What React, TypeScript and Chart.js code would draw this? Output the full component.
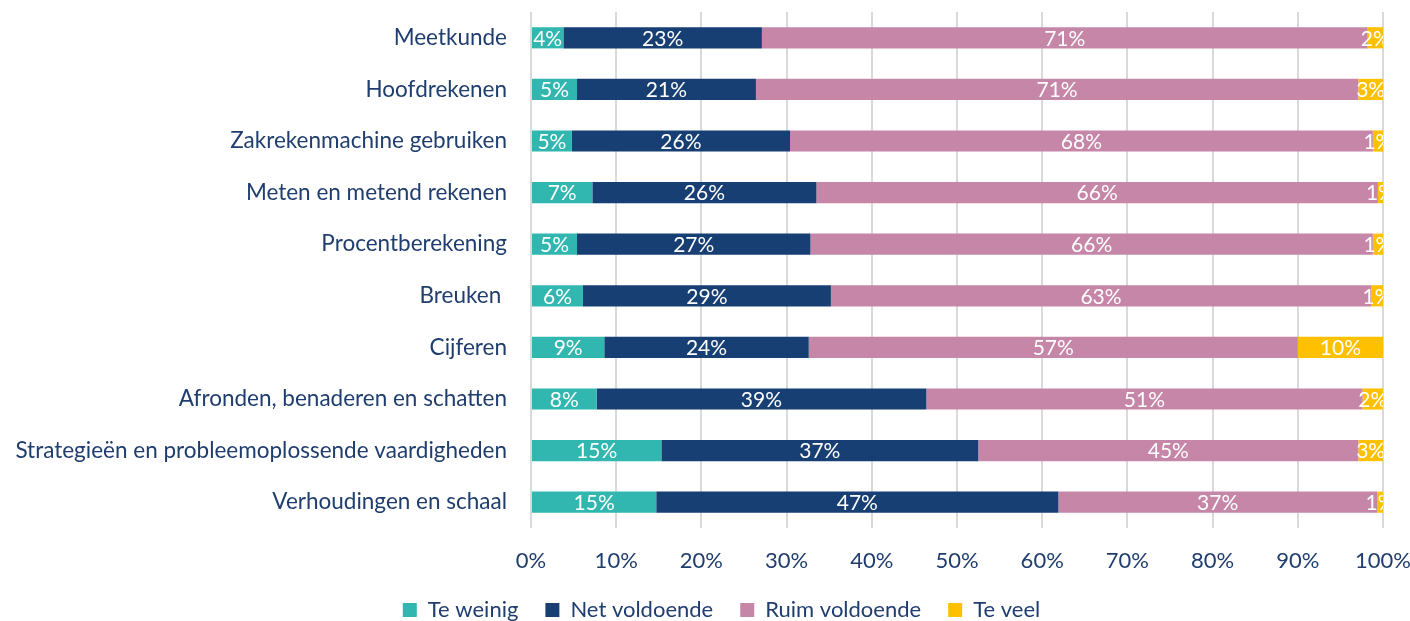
import React, { useEffect, useRef } from 'react';
import { Chart, registerables } from 'chart.js';

Chart.register(...registerables);

const categories = [
  'Meetkunde',
  'Hoofdrekenen',
  'Zakrekenmachine gebruiken',
  'Meten en metend rekenen',
  'Procentberekening',
  'Breuken ',
  'Cijferen',
  'Afronden, benaderen en schatten',
  'Strategieën en probleemoplossende vaardigheden',
  'Verhoudingen en schaal',
];

const teWeinig = [3.8, 5.4, 4.8, 7.2, 5.4, 6.1, 8.6, 7.7, 15.3, 14.7];
const netVoldoende = [23.3, 21.0, 25.6, 26.3, 27.4, 29.1, 24.0, 38.7, 37.2, 47.2];
const ruimVoldoende = [71.1, 70.7, 68.4, 65.9, 66.0, 63.4, 57.4, 51.2, 44.6, 37.4];
const teVeel = [1.8, 2.9, 1.2, 0.6, 1.2, 1.4, 10.0, 2.4, 2.9, 0.7];

const xTicks = [0, 10, 20, 30, 40, 50, 60, 70, 80, 90, 100];

const FONT = 'Lato';
const TEXT = '#1F3D6E';

const barLabels = {
  id: 'barLabels',
  afterDatasetsDraw(chart: any) {
    const { ctx, chartArea } = chart;
    ctx.save();
    ctx.beginPath();
    ctx.rect(chartArea.left, chartArea.top, chartArea.right - chartArea.left, chartArea.bottom - chartArea.top);
    ctx.clip();
    ctx.fillStyle = '#FFFFFF';
    ctx.font = `21px ${FONT}`;
    ctx.textAlign = 'center';
    ctx.textBaseline = 'middle';
    chart.data.datasets.forEach((ds: any, di: number) => {
      const meta = chart.getDatasetMeta(di);
      meta.data.forEach((el: any, i: number) => {
        const { x, base, y } = el.getProps(['x', 'base', 'y'], true);
        const v = ds.data[i];
        ctx.fillText(`${Math.round(v)}%`, (x + base) / 2, y + 1);
      });
    });
    ctx.restore();
  },
};

const shiftLegend = {
  id: 'shiftLegend',
  afterLayout(chart: any) {
    if (chart.legend) {
      chart.legend.left += 30;
      chart.legend.right += 30;
    }
  },
};

export default function App() {
  const ref = useRef<HTMLCanvasElement>(null);
  useEffect(() => {
    if (!ref.current) return;
    const chart = new Chart(ref.current, {
      type: 'bar',
      data: {
        labels: categories,
        datasets: [
          { label: 'Te weinig', data: teWeinig, backgroundColor: '#31B7AF' },
          { label: 'Net voldoende', data: netVoldoende, backgroundColor: '#173F73' },
          { label: 'Ruim voldoende', data: ruimVoldoende, backgroundColor: '#C586A7' },
          { label: 'Te veel', data: teVeel, backgroundColor: '#FFC000' },
        ],
      },
      options: {
        indexAxis: 'y',
        responsive: false,
        animation: false,
        layout: { padding: { top: 12, right: 27, left: 0, bottom: -10 } },
        datasets: { bar: { categoryPercentage: 1, barPercentage: 0.41 } },
        scales: {
          x: {
            stacked: true,
            min: 0,
            max: 100,
            afterBuildTicks: (scale: any) => {
              scale.ticks = xTicks.map((v) => ({ value: v }));
            },
            afterFit: (scale: any) => {
              scale.height = 44;
              scale.paddingLeft = 0;
              scale.paddingRight = 0;
            },
            border: { display: false },
            grid: { color: '#D9D9D9', lineWidth: 2, drawTicks: false },
            ticks: {
              padding: 20,
              color: TEXT,
              font: { family: FONT, size: 22 },
              callback: (v: any) => `${v}%`,
            },
          },
          y: {
            stacked: true,
            afterFit: (scale: any) => {
              scale.width = 531;
              scale.paddingTop = 0;
              scale.paddingBottom = 0;
            },
            border: { display: false },
            grid: { display: false, drawTicks: false },
            ticks: {
              padding: 24,
              color: TEXT,
              font: { family: FONT, size: 22.5 },
            },
          },
        },
        plugins: {
          legend: {
            position: 'bottom',
            labels: {
              color: TEXT,
              font: { family: FONT, size: 22 },
              boxWidth: 14,
              boxHeight: 14,
              padding: 27,
            },
          },
          tooltip: { enabled: false },
        },
      },
      plugins: [barLabels, shiftLegend],
    });
    return () => chart.destroy();
  }, []);
  return (
    <div style={{ position: 'absolute', left: 0, top: 0, width: 1410, height: 621, background: '#fff' }}>
      <canvas ref={ref} width={1410} height={621} />
    </div>
  );
}
